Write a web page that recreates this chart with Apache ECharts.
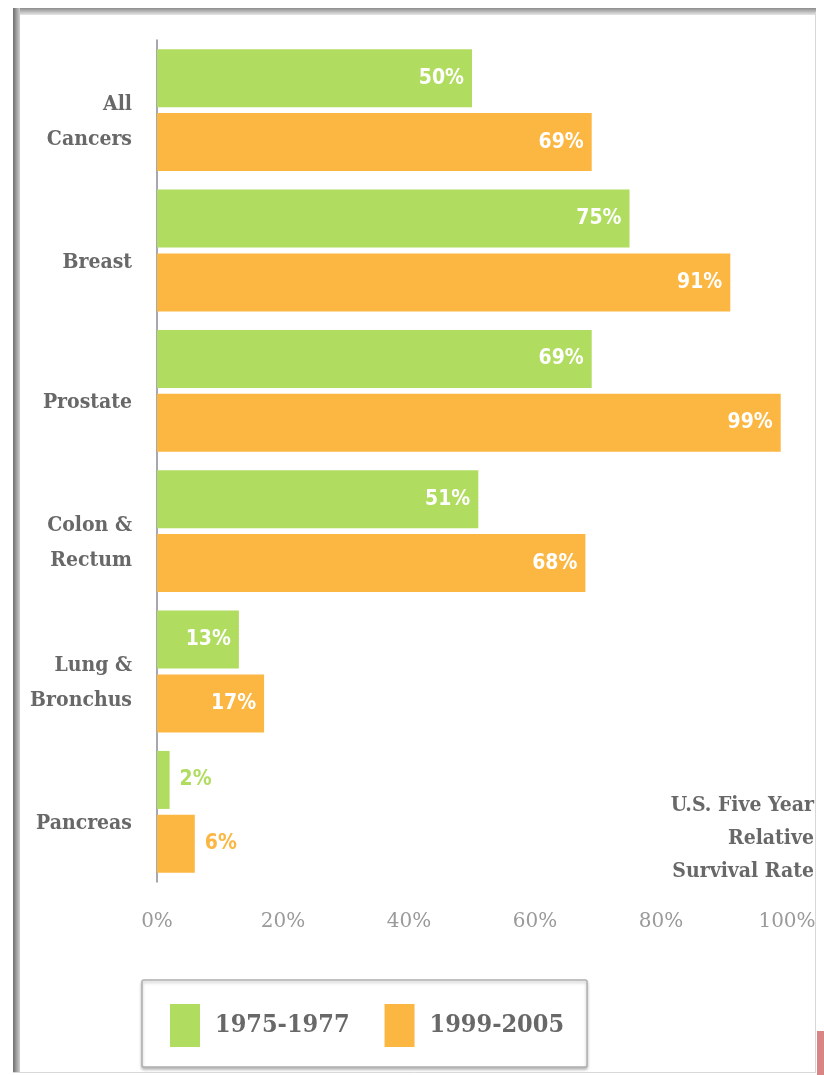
<!DOCTYPE html>
<html>
<head>
<meta charset="utf-8">
<script src="https://cdn.jsdelivr.net/npm/echarts@6/dist/echarts.min.js"></script>
<style>
html,body{margin:0;padding:0;background:#fff;}
#chart{width:824px;height:1075px;}
</style>
</head>
<body>
<div id="chart"></div>
<script>
var categories = ['All\nCancers', 'Breast', 'Prostate', 'Colon &\nRectum', 'Lung &\nBronchus', 'Pancreas'];
var series1975 = [50, 75, 69, 51, 13, 2];
var series1999 = [69, 91, 99, 68, 17, 6];
var seriesNames = ['1975-1977', '1999-2005'];
var xTicks = [0, 20, 40, 60, 80, 100];
var noteText = 'U.S. Five Year\nRelative\nSurvival Rate';

var GREEN = '#B0DC60';
var ORANGE = '#FCB642';
var SERIF = '"DejaVu Serif", "Liberation Serif", serif';
var SERIFC = '"DejaVu Serif Condensed", "DejaVu Serif", serif';
var VALFONT = '"DejaVu Sans Condensed", "Liberation Sans Narrow", "DejaVu Sans", sans-serif';

function makeData(values, color) {
  return values.map(function (v) {
    if (v < 10) {
      return { value: v, label: { position: 'right', distance: 10, color: color, fontWeight: 'bold' } };
    }
    return { value: v };
  });
}

var chart = echarts.init(document.getElementById('chart'), null, { renderer: 'canvas' });
chart.setOption({
  animation: false,
  backgroundColor: '#fff',
  grid: { left: 157, right: 37, top: 40, bottom: 193, containLabel: false },
  xAxis: {
    type: 'value', min: xTicks[0], max: xTicks[xTicks.length - 1], interval: 20,
    axisLine: { show: false }, axisTick: { show: false }, splitLine: { show: false },
    axisLabel: { formatter: '{value}%', color: '#9a9a9a', fontFamily: SERIF, fontSize: 20, margin: 30 }
  },
  yAxis: {
    type: 'category', data: categories, inverse: true,
    axisLine: { show: true, lineStyle: { color: '#8a8a99', width: 1.5 } },
    axisTick: { show: false },
    axisLabel: {
      color: '#686868', fontFamily: SERIFC, fontWeight: 'bold', fontSize: 21, lineHeight: 35,
      margin: 25, align: 'right',
      formatter: function (v) { return '{sp| }\n' + v; },
      rich: { sp: { height: 24, lineHeight: 24, fontSize: 4 } }
    }
  },
  legend: {
    data: seriesNames, left: 142, top: 980, orient: 'horizontal',
    padding: [24, 23, 20, 28], itemWidth: 30, itemHeight: 43, itemGap: 35, icon: 'rect',
    backgroundColor: '#fff', borderColor: '#b0b0b0', borderWidth: 1.5, borderRadius: 2,
    shadowColor: 'rgba(0,0,0,0.25)', shadowBlur: 3, shadowOffsetY: 2,
    textStyle: { color: '#686868', fontFamily: SERIFC, fontSize: 25, fontWeight: 'bold', padding: [0, 0, 0, 10] }
  },
  series: [
    {
      name: seriesNames[0], type: 'bar', data: makeData(series1975, GREEN), barWidth: 58, barGap: '10%',
      itemStyle: { color: GREEN },
      label: { show: true, position: 'insideRight', distance: 8, formatter: '{c}%', color: '#fff',
               fontFamily: VALFONT, fontWeight: 'bold', fontSize: 21 }
    },
    {
      name: seriesNames[1], type: 'bar', data: makeData(series1999, ORANGE), barWidth: 58, barGap: '10%',
      itemStyle: { color: ORANGE },
      label: { show: true, position: 'insideRight', distance: 8, formatter: '{c}%', color: '#fff',
               fontFamily: VALFONT, fontWeight: 'bold', fontSize: 21 }
    }
  ],
  graphic: [
    { type: 'text', right: 10, top: 789, z: 5,
      style: { text: noteText, textAlign: 'right', fill: '#686868', font: 'bold 21px ' + SERIFC, lineHeight: 33 } },
    // clip right edge
    { type: 'rect', shape: { x: 816, y: 0, width: 8, height: 1075 }, style: { fill: '#fff' }, z: 50 },
    // frame: top
    { type: 'rect', shape: { x: 13, y: 8, width: 803, height: 7 }, z: 60,
      style: { fill: new echarts.graphic.LinearGradient(0, 0, 0, 1, [
        { offset: 0, color: '#8c8c8c' }, { offset: 1, color: '#e6e6e6' }]) } },
    // frame: left
    { type: 'rect', shape: { x: 13, y: 8, width: 7, height: 1064 }, z: 61,
      style: { fill: new echarts.graphic.LinearGradient(0, 0, 1, 0, [
        { offset: 0, color: '#6e6e6e' }, { offset: 1, color: '#d0d0d0' }]) } },
    // frame: right thin line
    { type: 'line', shape: { x1: 815.5, y1: 12, x2: 815.5, y2: 1072 }, z: 60,
      style: { stroke: '#d8d8d8', lineWidth: 1 } },
    // frame: bottom thin line
    { type: 'line', shape: { x1: 13, y1: 1072.5, x2: 816, y2: 1072.5 }, z: 60,
      style: { stroke: '#d8d8d8', lineWidth: 1 } },
    // pink corner block
    { type: 'rect', shape: { x: 817, y: 1031, width: 7, height: 44 }, z: 62,
      style: { fill: '#DA8585' } }
  ]
});
</script>
</body>
</html>
